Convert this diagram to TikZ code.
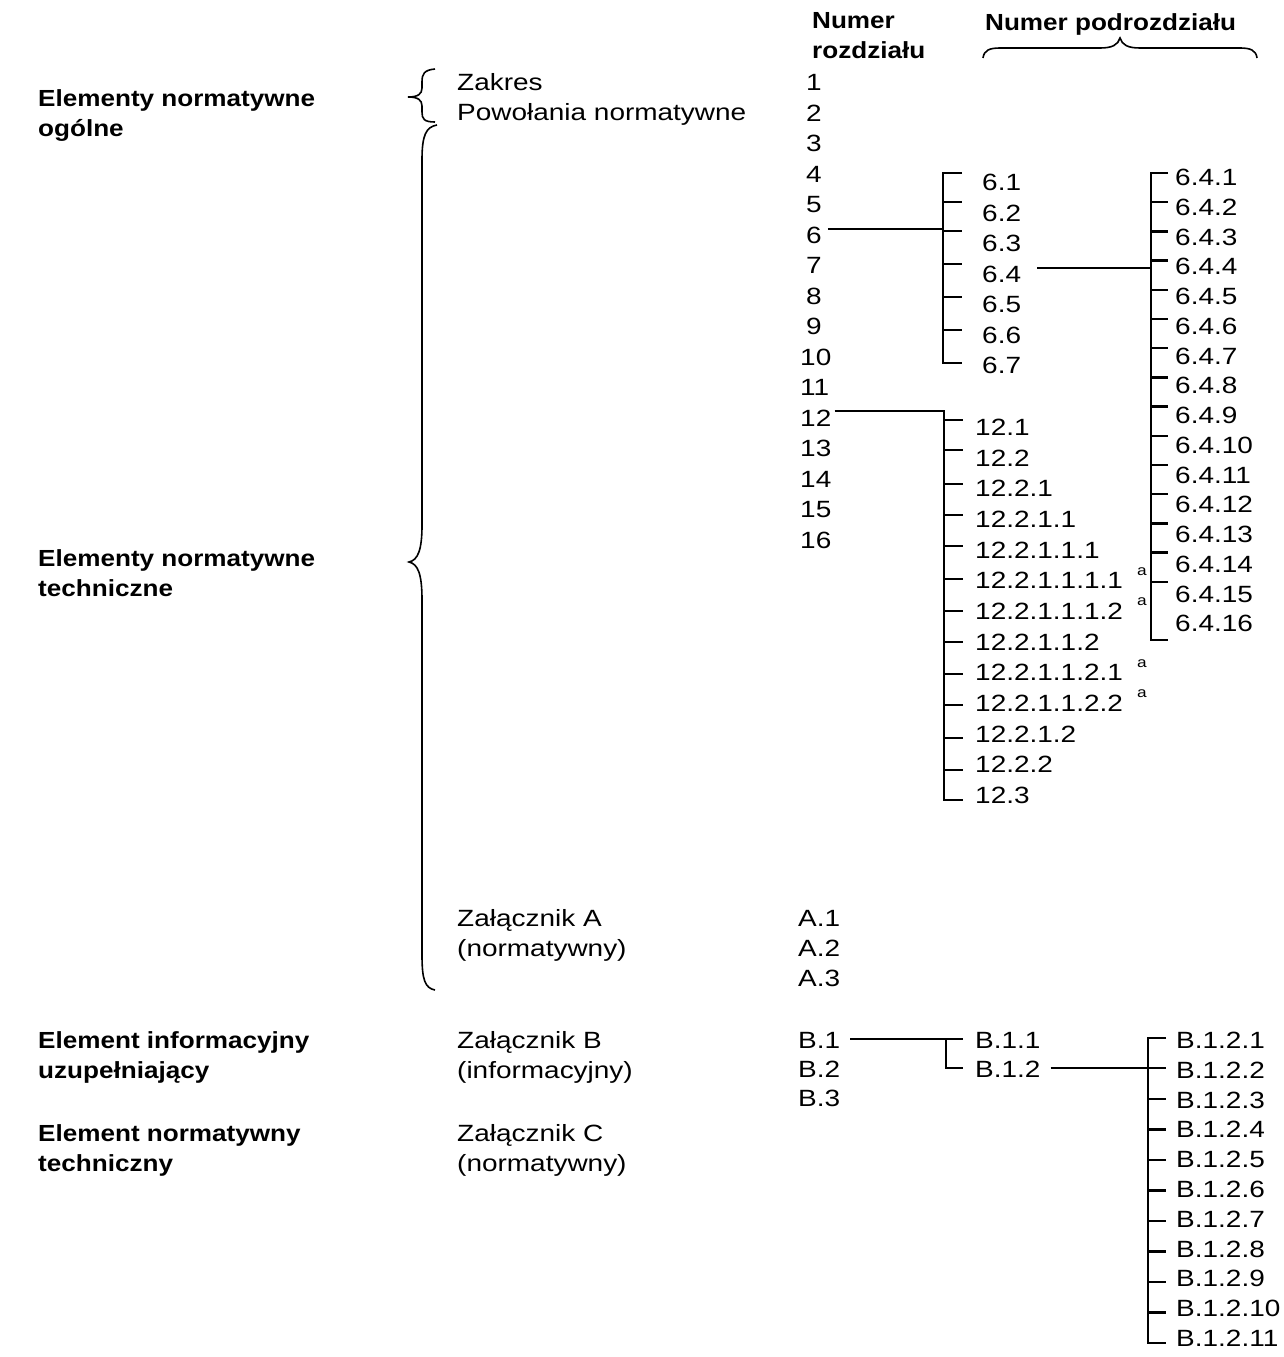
\documentclass[tikz,border=0pt]{standalone}
\usepackage{fontspec}
\setmainfont{Liberation Sans}[FakeStretch=1.19]
\newfontfamily\bdfont{Liberation Sans}[FakeStretch=1.12]
\begin{document}
\begin{tikzpicture}[x=1pt,y=-1pt,
  txt/.style={anchor=west, inner sep=0pt, text height=17pt, text depth=0pt, font=\fontsize{23.5}{28}\selectfont},
  bold/.style={anchor=west, inner sep=0pt, text height=17pt, text depth=0pt, font=\fontsize{23.3}{28}\selectfont\bdfont\bfseries},
  supa/.style={anchor=west, inner sep=0pt, font=\fontsize{14.5}{16}\selectfont},
  ln/.style={line width=2.3pt},
  br/.style={line width=1.6pt}]
\useasboundingbox[fill=white] (0,0) rectangle (1284,1357);

% left bold labels
\node[bold] (eno1) at (38,98) {Elementy normatywne};
\node[bold] (eno2) at (38,128) {ogólne};
\node[bold] (ent1) at (38,558) {Elementy normatywne};
\node[bold] (ent2) at (38,588) {techniczne};
\node[bold] (eiu1) at (38,1040) {Element informacyjny};
\node[bold] (eiu2) at (38,1070) {uzupełniający};
\node[bold] (ent3) at (38,1133) {Element normatywny};
\node[bold] (ent4) at (38,1163) {techniczny};

% second column
\node[txt] (zak) at (457,82) {Zakres};
\node[txt] (pow) at (457,112) {Powołania normatywne};
\node[txt] (zalA) at (457,918) {Załącznik A};
\node[txt] (zalAn) at (457,948) {(normatywny)};
\node[txt] (zalB) at (457,1040) {Załącznik B};
\node[txt] (zalBi) at (457,1070) {(informacyjny)};
\node[txt] (zalC) at (457,1133) {Załącznik C};
\node[txt] (zalCn) at (457,1163) {(normatywny)};

% braces
\draw[br] (435,69) .. controls (424,70) and (422,74) .. (422,82) -- (422,88)
  .. controls (422,94) and (418,97) .. (408,97)
  .. controls (418,97) and (422,100) .. (422,106) -- (422,112)
  .. controls (422,119) and (424,122) .. (435,122);
\draw[br] (437,125) .. controls (426,127) and (422,135) .. (422,160) -- (422,525)
  .. controls (422,550) and (418,560) .. (409,562)
  .. controls (418,564) and (422,574) .. (422,600) -- (422,955)
  .. controls (422,980) and (425,988) .. (435,990);

% headers
\node[bold] (hnum) at (812,20) {Numer};
\node[bold] (hroz) at (812,50) {rozdziału};
\node[bold] (hpod) at (985,22) {Numer podrozdziału};
\draw[br] (983,58) .. controls (984,50) and (990,48) .. (1000,48) -- (1100,48)
  .. controls (1112,48) and (1118,45) .. (1120,38)
  .. controls (1122,45) and (1128,48) .. (1140,48) -- (1240,48)
  .. controls (1250,48) and (1256,50) .. (1257,58);

% chapter numbers
\foreach \k in {1,...,16}{
  \pgfmathsetmacro\xx{\k<10 ? 806 : 800}
  \pgfmathsetmacro\yy{82+(\k-1)*30.5}
  \node[txt] (c\k) at (\xx,\yy) {\k};
}

% 6.x
\foreach \k in {1,...,7}{
  \pgfmathsetmacro\yy{182+(\k-1)*30.5}
  \node[txt] (s6\k) at (982,\yy) {6.\k};
}
\coordinate (sp6) at (943,0);
\draw[ln] (962,173) -- (943,173) -- (943,363) -- (962,363);
\foreach \ty in {202,231,264,297,330}{ \draw[ln] (943,\ty) -- (962,\ty); }
\draw[ln] ([xshift=6pt,yshift=5.5pt]c6.east) -- ([yshift=5.5pt]c6.east -| sp6);

% 6.4.x
\foreach \k in {1,...,16}{
  \pgfmathsetmacro\yy{177+(\k-1)*29.75}
  \node[txt] (u\k) at (1175,\yy) {6.4.\k};
}
\coordinate (sp64) at (1151,0);
\draw[ln] (1168,173) -- (1151,173) -- (1151,640) -- (1168,640);
\foreach \k in {2,...,15}{
  \pgfmathsetmacro\ty{173+(\k-1)*29.2}
  \draw[ln] (1151,\ty) -- (1168,\ty);
}
\draw[ln] ([xshift=16pt,yshift=5.5pt]s64.east) -- ([yshift=5.5pt]s64.east -| sp64);

% 12.x
\foreach \k/\t in {1/12.1,2/12.2,3/12.2.1,4/12.2.1.1,5/12.2.1.1.1,6/12.2.1.1.1.1,7/12.2.1.1.1.2,8/12.2.1.1.2,9/12.2.1.1.2.1,10/12.2.1.1.2.2,11/12.2.1.2,12/12.2.2,13/12.3}{
  \pgfmathsetmacro\yy{427+(\k-1)*30.67}
  \node[txt] (t\k) at (975,\yy) {\t};
}
\foreach \k in {6,7,9,10}{
  \node[supa] (sa\k) at ([yshift=9pt]t\k.center -| 1137,0) {a};
}
\coordinate (sp12) at (944,0);
\draw[ln] ([xshift=3pt,yshift=6.5pt]c12.east) -- ([yshift=6.5pt]c12.east -| sp12) -- (944,800) -- (963,800);
\foreach \ty in {420,450,484,515,546,579,611,642,674,705,738,770}{ \draw[ln] (944,\ty) -- (963,\ty); }

% A.x
\node[txt] (a1) at (798,918) {A.1};
\node[txt] (a2) at (798,948) {A.2};
\node[txt] (a3) at (798,978) {A.3};

% B.x
\node[txt] (b1) at (798,1040) {B.1};
\node[txt] (b2) at (798,1069) {B.2};
\node[txt] (b3) at (798,1098) {B.3};
\node[txt] (b11) at (975,1040) {B.1.1};
\node[txt] (b12) at (975,1069) {B.1.2};
\draw[ln] ([xshift=10pt,yshift=1pt]b1.east) -- ([xshift=-12pt,yshift=1pt]b11.west);
\draw[ln] (946,1039) -- (946,1068) -- ([xshift=-12pt,yshift=1pt]b12.west);
\foreach \k in {1,...,11}{
  \pgfmathsetmacro\yy{1040+(\k-1)*29.8}
  \node[txt] (v\k) at (1176,\yy) {B.1.2.\k};
}
\coordinate (spB) at (1148,0);
\draw[ln] (1166,1038) -- (1148,1038) -- (1148,1343) -- (1166,1343);
\foreach \k in {3,...,10}{
  \pgfmathsetmacro\ty{1038+(\k-1)*30.5}
  \draw[ln] (1148,\ty) -- (1166,\ty);
}
\draw[ln] ([xshift=10pt,yshift=1pt]b12.east) -- ([xshift=-10pt,yshift=1pt]b12.east -| v2.west);
\end{tikzpicture}
\end{document}
